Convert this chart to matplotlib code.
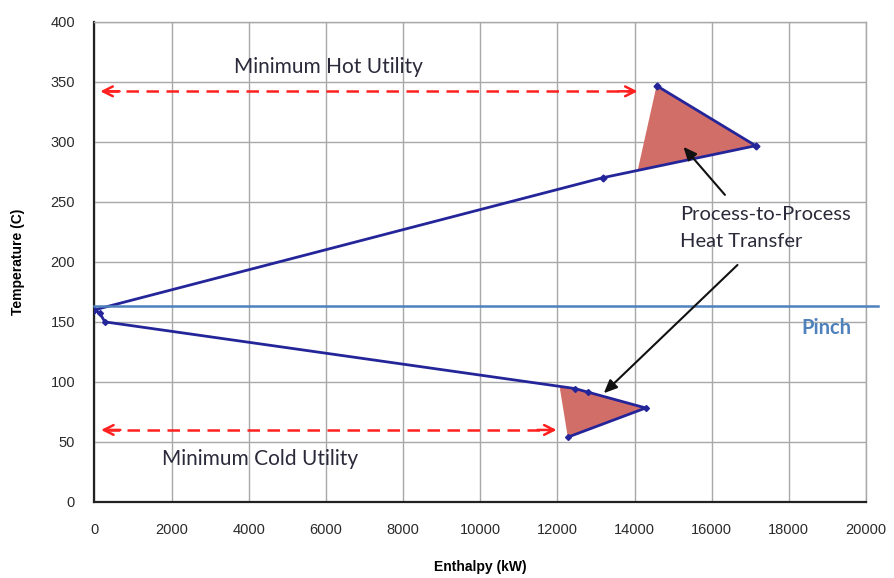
import numpy as np
import matplotlib.pyplot as plt
from matplotlib.patches import Polygon

# upper composite curve (above pinch)
upper_h = [0, 13170, 17140, 14570]
upper_t = [160, 270, 296.7, 346.7]
# lower composite curve (below pinch)
lower_h = [0, 140, 270, 12450, 12790, 14290, 12270]
lower_t = [160, 157, 150, 94.5, 91.5, 78.3, 54]

# process-to-process regions
upper_fill_h = [14080, 17140, 14570]
upper_fill_t = [276, 296.7, 346.7]
lower_fill_h = [12060, 12450, 12790, 14290, 12270]
lower_fill_t = [95.5, 94.5, 91.5, 78.3, 54]

pinch_t = 163
hot_util = (150, 14080, 342)
cold_util = (170, 11980, 60)

xticks = np.arange(0, 20001, 2000)
yticks = np.arange(0, 401, 50)

line_col = '#25259A'
fill_col = '#D26E68'
pinch_col = '#4F81BD'
util_col = '#FF2020'
note_font = 'Lato'
note_col = '#2A2A3A'

fig = plt.figure(figsize=(8.94, 5.78), dpi=100)
ax = fig.add_axes([0.1057, 0.1315, 0.863, 0.831])

ax.set_xlim(0, 20000)
ax.set_ylim(0, 400)
ax.set_xticks(xticks)
ax.set_yticks(yticks)
ax.grid(True, color='#A8A8A8', linewidth=1.0)
ax.set_axisbelow(True)
for s in ['top', 'right']:
    ax.spines[s].set_color('#A8A8A8')
    ax.spines[s].set_linewidth(1.0)
for s in ['left', 'bottom']:
    ax.spines[s].set_color('#222222')
    ax.spines[s].set_linewidth(1.6)
ax.tick_params(length=0, labelsize=10.5, colors='#2A2A2A')
ax.tick_params(axis='x', pad=15)
ax.tick_params(axis='y', pad=14)
for lab in ax.get_xticklabels() + ax.get_yticklabels():
    lab.set_family('Liberation Sans')

ax.add_patch(Polygon(np.column_stack([upper_fill_h, upper_fill_t]), closed=True,
                     facecolor=fill_col, edgecolor='none', zorder=2))
ax.add_patch(Polygon(np.column_stack([lower_fill_h, lower_fill_t]), closed=True,
                     facecolor=fill_col, edgecolor='none', zorder=2))

ax.plot(upper_h, upper_t, color=line_col, lw=2, marker='D', ms=3.5, zorder=3)
ax.plot(lower_h, lower_t, color=line_col, lw=2, marker='D', ms=3, zorder=3)

ax.plot([0, 20300], [pinch_t, pinch_t], color=pinch_col, lw=1.8, clip_on=False, zorder=3)
ax.text(18980, 145, 'Pinch', color=pinch_col, fontsize=14.5, fontweight='bold',
        family=note_font, ha='center', va='center')

# dashed utility arrows with solid heads
for x0, x1, y in [hot_util, cold_util]:
    ax.plot([x0 + 150, x1 - 150], [y, y], color=util_col, lw=1.8,
            linestyle=(0, (5, 3)))
    for tip, tail in [(x0, x0 + 500), (x1, x1 - 500)]:
        ax.annotate('', xy=(tip, y), xytext=(tail, y),
                    arrowprops=dict(arrowstyle='->,head_length=0.7,head_width=0.35',
                                    color=util_col, lw=1.8, shrinkA=0, shrinkB=0))
ax.text(6075, 362, 'Minimum Hot Utility', fontsize=15, family=note_font,
        color=note_col, ha='center', va='center')
ax.text(4290, 36, 'Minimum Cold Utility', fontsize=15, family=note_font,
        color=note_col, ha='center', va='center')

ax.text(15190, 228, 'Process-to-Process\nHeat Transfer', fontsize=14.5, family=note_font,
        color=note_col, ha='left', va='center', linespacing=1.75)
ax.annotate('', xy=(15220, 297.5), xytext=(16390, 254),
            arrowprops=dict(arrowstyle='-|>,head_length=0.8,head_width=0.35',
                            color='#111111', lw=1.5))
ax.annotate('', xy=(13150, 89), xytext=(16720, 199),
            arrowprops=dict(arrowstyle='-|>,head_length=0.8,head_width=0.35',
                            color='#111111', lw=1.5))

ax.set_xlabel('Enthalpy (kW)', fontsize=10, fontweight='bold', family='Liberation Sans',
              labelpad=17)
ax.set_ylabel('Temperature (C)', fontsize=10, fontweight='bold', family='Liberation Sans',
              labelpad=18)

fig.savefig('out.png', dpi=100)
